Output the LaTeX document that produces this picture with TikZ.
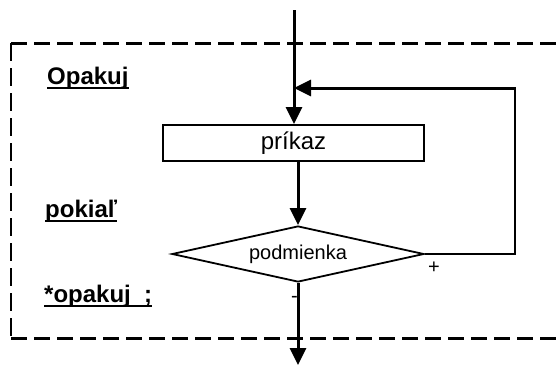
\documentclass[tikz,border=0pt]{standalone}
\usepackage{fontspec}
\setmainfont{Liberation Sans}
\usetikzlibrary{arrows.meta,shapes.geometric}

% underline at a fixed depth, running through descenders
\newcommand{\ulbar}[1]{\setbox0=\hbox{#1}\rlap{\rule[-5pt]{\wd0}{2pt}}\box0}

\tikzset{
  flow/.style={line width=3pt,-{Triangle[width=16pt,length=17pt]}},
  thinline/.style={line width=1.6pt},
  frameh/.style={line width=3pt,dash pattern=on 16pt off 7pt},
  framev/.style={line width=2pt,dash pattern=on 18pt off 7pt},
  keyword/.style={anchor=base west,inner sep=0pt,font=\fontsize{24}{28}\selectfont\bfseries},
  procbox/.style={draw,line width=2pt,minimum width=261pt,minimum height=36pt,
                  inner sep=0pt,font=\fontsize{24}{28}\selectfont},
  cond/.style={draw,shape=diamond,aspect=4.5,line width=1.8pt,minimum width=252pt,minimum height=56pt,
               inner sep=0pt,font=\fontsize{20}{24}\selectfont},
  sign/.style={inner sep=0pt,font=\fontsize{20}{24}\selectfont}
}

\begin{document}
\begin{tikzpicture}[x=1pt,y=-1pt]
\useasboundingbox (0,0) rectangle (558,365);

% dashed frame, open on the right
\draw[frameh] (11,43) -- (558,43);
\draw[framev] (11,43) -- (11,338);
\draw[frameh] (11,338) -- (558,338);

% keywords
\node[keyword] (kwrepeat) at (47,84) {\ulbar{Opakuj}};
\node[keyword] (kwwhile) at (45,217) {\ulbar{pokiaľ}};
\node[keyword] (kwend) at (44,302) {\ulbar{*opakuj\ \ ;}};

% flowchart
\coordinate (start) at (294,10);
\node[procbox] (cmd) at (293.5,143) {príkaz};
\node[cond] (test) at (298,254) {podmienka};
\coordinate (loopr) at (515,254);
\coordinate (loopt) at (515,88);
\coordinate (join) at (294,88);
\coordinate (end) at (299,365);

\draw[flow] (start) -- (start |- cmd.north);
\draw[flow] (test.north |- cmd.south) -- (test.north);
\draw[flow] (test.south) -- (test.south |- end);
\draw[thinline] (test.east) -- (loopr) -- (loopt);
\draw[flow] ([xshift=0.8pt]loopt) -- (join);

% branch labels
\node[sign] (plus) at (434,268) {+};
\node[sign,anchor=east] (minus) at (298,299) {-};
\end{tikzpicture}
\end{document}
